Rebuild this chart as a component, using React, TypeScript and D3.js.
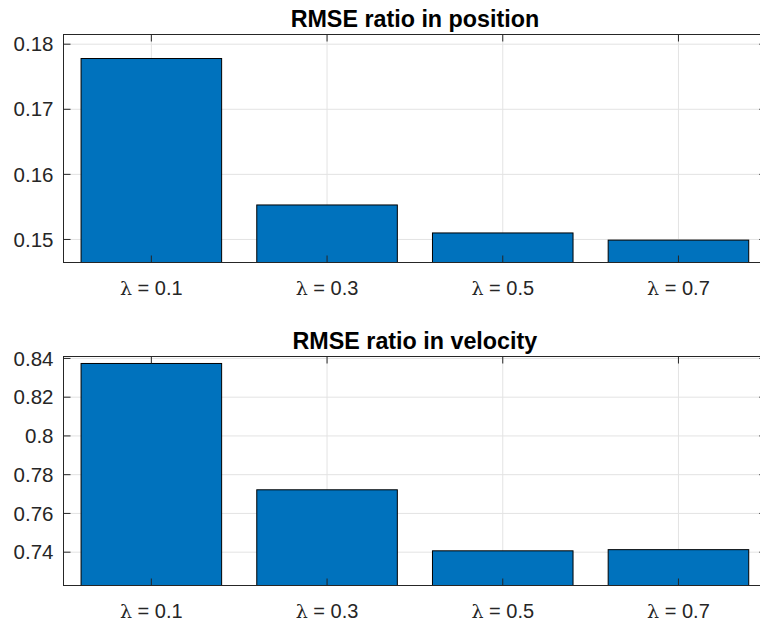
import React from "react";
import * as d3 from "d3";

const categories = ["0.1", "0.3", "0.5", "0.7"];
const positionRatio = [0.1778, 0.1553, 0.151, 0.1499];
const velocityRatio = [0.8374, 0.7722, 0.7407, 0.7413];
const positionTicks = [0.15, 0.16, 0.17, 0.18];
const positionTickLabels = ["0.15", "0.16", "0.17", "0.18"];
const velocityTicks = [0.74, 0.76, 0.78, 0.8, 0.82, 0.84];
const velocityTickLabels = ["0.74", "0.76", "0.78", "0.8", "0.82", "0.84"];
const positionYLim = [0.14646, 0.18149];
const velocityYLim = [0.7228, 0.841];
const titles = ["RMSE ratio in position", "RMSE ratio in velocity"];

const W = 760;
const H = 628;
const LEFT = 63.5;
const RIGHT = 766.3;
const AX = "#262626";
const GRID = "#e3e3e3";
const BAR = "#0072BD";
const FONT = "'Liberation Sans', Arial, Helvetica, sans-serif";

type PanelProps = {
  title: string;
  values: number[];
  ticks: number[];
  tickLabels: string[];
  ylim: number[];
  top: number;
  bottom: number;
};

function Panel({ title, values, ticks, tickLabels, ylim, top, bottom }: PanelProps) {
  const x = d3.scaleLinear().domain([0.5, categories.length + 0.5]).range([LEFT, RIGHT]);
  const y = d3.scaleLinear().domain(ylim).range([bottom, top]);
  const bw = x(1.4) - x(0.6);
  const tickLen = 7;
  const cx = categories.map((_, i) => x(i + 1));
  return (
    <g>
      {ticks.map((t, i) => (
        <line key={"gy" + i} x1={LEFT} x2={RIGHT} y1={y(t)} y2={y(t)} stroke={GRID} strokeWidth={1} />
      ))}
      {cx.map((c, i) => (
        <line key={"gx" + i} x1={c} x2={c} y1={top} y2={bottom} stroke={GRID} strokeWidth={1} />
      ))}
      {values.map((v, i) => (
        <rect
          key={"b" + i}
          x={cx[i] - bw / 2}
          y={y(v)}
          width={bw}
          height={bottom - y(v)}
          fill={BAR}
          stroke="#000"
          strokeWidth={1}
        />
      ))}
      {cx.map((c, i) => (
        <g key={"tx" + i}>
          <line x1={c} x2={c} y1={bottom} y2={bottom - tickLen} stroke={AX} strokeWidth={1} />
          <line x1={c} x2={c} y1={top} y2={top + tickLen} stroke={AX} strokeWidth={1} />
          <text
            x={c}
            y={bottom + 32}
            textAnchor="middle"
            fontFamily={FONT}
            fontSize={20}
            fill={AX}
          >
            <tspan fontFamily="'DejaVu Serif', serif" fontSize={19}>λ</tspan>
            <tspan> = {categories[i]}</tspan>
          </text>
        </g>
      ))}
      {ticks.map((t, i) => (
        <g key={"ty" + i}>
          <line x1={LEFT} x2={LEFT + tickLen} y1={y(t)} y2={y(t)} stroke={AX} strokeWidth={1} />
          <line x1={RIGHT} x2={RIGHT - tickLen} y1={y(t)} y2={y(t)} stroke={AX} strokeWidth={1} />
          <text
            x={LEFT - 10}
            y={y(t)}
            dy="0.35em"
            textAnchor="end"
            fontFamily={FONT}
            fontSize={20.5}
            fill={AX}
          >
            {tickLabels[i]}
          </text>
        </g>
      ))}
      <rect x={LEFT} y={top} width={RIGHT - LEFT} height={bottom - top} fill="none" stroke={AX} strokeWidth={1} />
      <text
        x={(LEFT + RIGHT) / 2}
        y={top - 8}
        textAnchor="middle"
        fontFamily={FONT}
        fontWeight="bold"
        fontSize={23.3}
        fill="#000"
      >
        {title}
      </text>
    </g>
  );
}

export default function App() {
  return (
    <div style={{ position: "fixed", left: 0, top: 0, width: W, height: H, overflow: "hidden", background: "#fff" }}>
      <svg width={W} height={H} viewBox={`0 0 ${W} ${H}`} style={{ display: "block" }}>
        <rect width={W} height={H} fill="#fff" />
        <Panel
          title={titles[0]}
          values={positionRatio}
          ticks={positionTicks}
          tickLabels={positionTickLabels}
          ylim={positionYLim}
          top={34.5}
          bottom={262.5}
        />
        <Panel
          title={titles[1]}
          values={velocityRatio}
          ticks={velocityTicks}
          tickLabels={velocityTickLabels}
          ylim={velocityYLim}
          top={356.5}
          bottom={585.5}
        />
      </svg>
    </div>
  );
}
